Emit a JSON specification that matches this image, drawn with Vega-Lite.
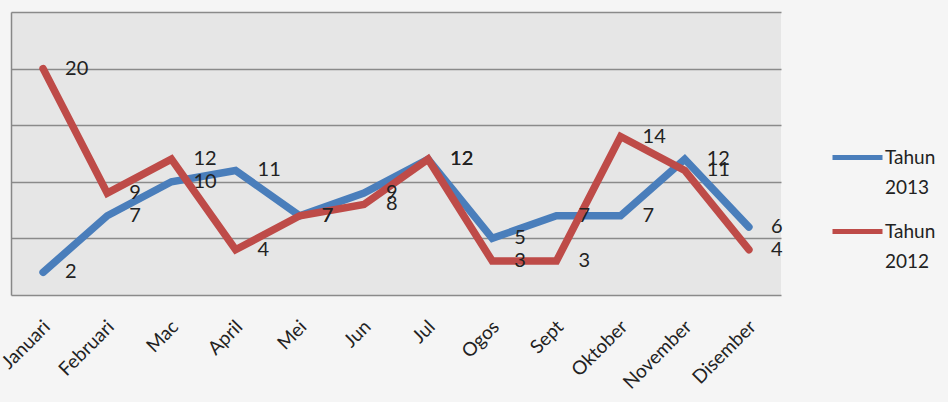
{
  "$schema": "https://vega.github.io/schema/vega-lite/v6.json",
  "width": 770,
  "height": 283,
  "autosize": {"type": "none"},
  "padding": {"left": 11, "top": 12, "right": 167, "bottom": 107},
  "background": "#f5f5f5",
  "config": {
    "font": "Lato",
    "view": {"fill": "#e6e6e6", "stroke": null}
  },
  "data": {
    "values": [
      {"bulan": "Januari", "siri": "Tahun 2013", "nilai": 2},
      {"bulan": "Februari", "siri": "Tahun 2013", "nilai": 7},
      {"bulan": "Mac", "siri": "Tahun 2013", "nilai": 10},
      {"bulan": "April", "siri": "Tahun 2013", "nilai": 11},
      {"bulan": "Mei", "siri": "Tahun 2013", "nilai": 7},
      {"bulan": "Jun", "siri": "Tahun 2013", "nilai": 9},
      {"bulan": "Jul", "siri": "Tahun 2013", "nilai": 12},
      {"bulan": "Ogos", "siri": "Tahun 2013", "nilai": 5},
      {"bulan": "Sept", "siri": "Tahun 2013", "nilai": 7},
      {"bulan": "Oktober", "siri": "Tahun 2013", "nilai": 7},
      {"bulan": "November", "siri": "Tahun 2013", "nilai": 12},
      {"bulan": "Disember", "siri": "Tahun 2013", "nilai": 6},
      {"bulan": "Januari", "siri": "Tahun 2012", "nilai": 20},
      {"bulan": "Februari", "siri": "Tahun 2012", "nilai": 9},
      {"bulan": "Mac", "siri": "Tahun 2012", "nilai": 12},
      {"bulan": "April", "siri": "Tahun 2012", "nilai": 4},
      {"bulan": "Mei", "siri": "Tahun 2012", "nilai": 7},
      {"bulan": "Jun", "siri": "Tahun 2012", "nilai": 8},
      {"bulan": "Jul", "siri": "Tahun 2012", "nilai": 12},
      {"bulan": "Ogos", "siri": "Tahun 2012", "nilai": 3},
      {"bulan": "Sept", "siri": "Tahun 2012", "nilai": 3},
      {"bulan": "Oktober", "siri": "Tahun 2012", "nilai": 14},
      {"bulan": "November", "siri": "Tahun 2012", "nilai": 11},
      {"bulan": "Disember", "siri": "Tahun 2012", "nilai": 4}
    ]
  },
  "encoding": {
    "x": {
      "field": "bulan",
      "type": "ordinal",
      "sort": null,
      "scale": {"type": "point", "padding": 0.5},
      "axis": {
        "title": null,
        "domain": false,
        "ticks": false,
        "labelAngle": -45,
        "labelAlign": "right",
        "labelBaseline": "top",
        "labelPadding": 22,
        "labelOffset": -3,
        "labelFontSize": 19,
        "labelColor": "#222222",
        "labelFont": "Lato"
      }
    },
    "y": {
      "field": "nilai",
      "type": "quantitative",
      "scale": {"domain": [0, 25], "nice": false},
      "axis": {
        "title": null,
        "labels": false,
        "ticks": false,
        "domain": true,
        "domainColor": "#888888",
        "domainWidth": 1.5,
        "values": [0, 5, 10, 15, 20, 25],
        "grid": true,
        "gridColor": "#8a8a8a",
        "gridWidth": 1.5,
        "gridOpacity": 1
      }
    },
    "color": {
      "field": "siri",
      "type": "nominal",
      "scale": {"domain": ["Tahun 2013", "Tahun 2012"], "range": ["#4a7ebb", "#be4b48"]},
      "legend": {
        "title": null,
        "orient": "none",
        "legendX": 819,
        "legendY": 118,
        "symbolType": "stroke",
        "symbolStrokeWidth": 5,
        "symbolSize": 2500,
        "labelFontSize": 19,
        "labelColor": "#222222",
        "labelFont": "Lato",
        "labelExpr": "split(datum.label, ' ')",
        "labelOffset": 0,
        "rowPadding": 6,
        "encode": {
          "labels": {"update": {"lineHeight": {"value": 30}}}
        }
      }
    }
  },
  "layer": [
    {"mark": {"type": "line", "strokeWidth": 7.5, "strokeCap": "round"}},
    {
      "mark": {"type": "text", "align": "left", "baseline": "middle", "dx": 22, "fontSize": 20, "color": "#222222", "font": "Lato"},
      "encoding": {"text": {"field": "nilai", "type": "quantitative"}, "color": {"value": "#222222"}}
    }
  ]
}
